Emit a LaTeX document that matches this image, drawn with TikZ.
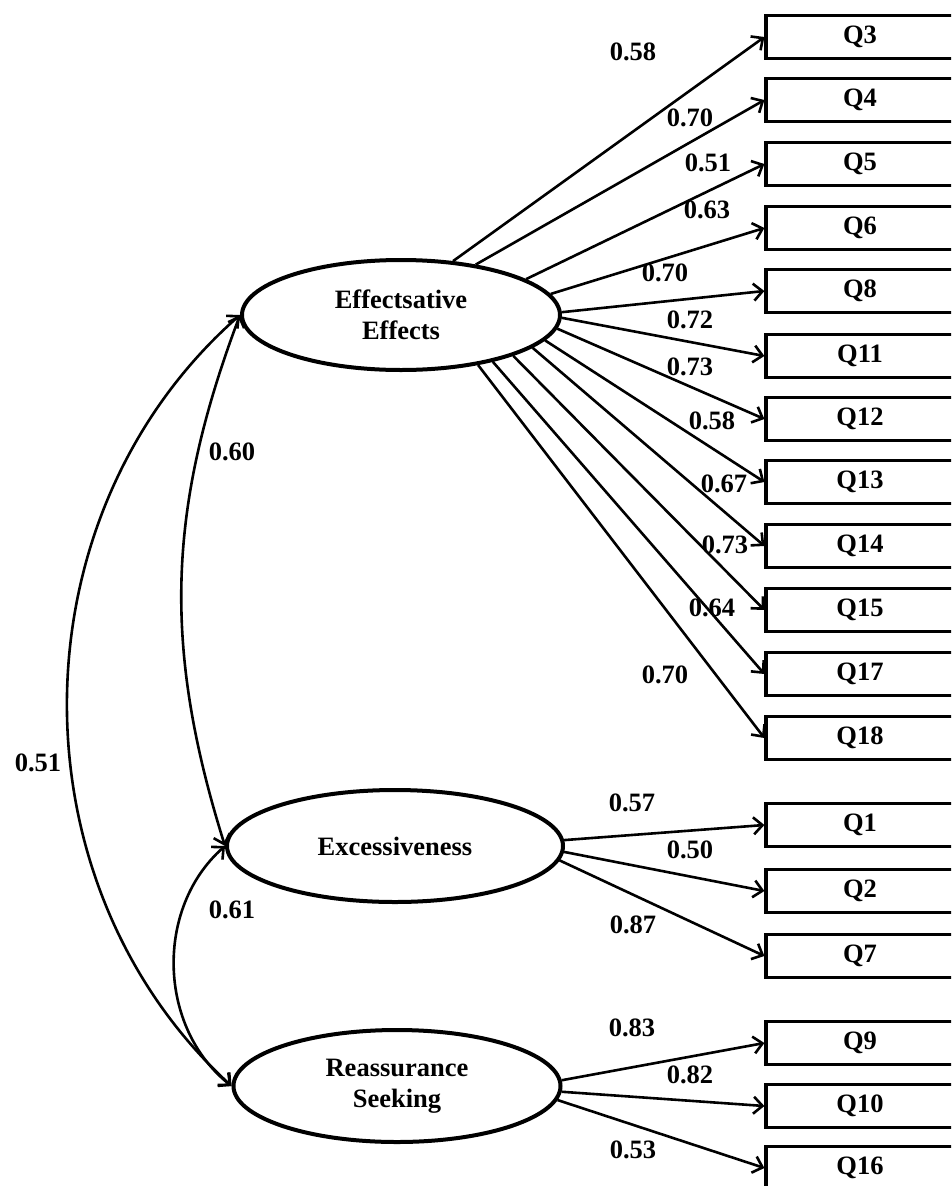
\documentclass[tikz,border=0pt]{standalone}
\usepackage{fontspec}
\setmainfont{Liberation Serif}
\usetikzlibrary{arrows.meta,shapes.geometric}
\begin{document}
\begin{tikzpicture}[x=1pt,y=-1pt,
  font=\fontsize{26.5}{31}\selectfont\bfseries,
  latent/.style={ellipse,draw,line width=4pt,inner sep=0pt,align=center},
  obs/.style={rectangle,draw,line width=3.2pt,minimum width=188pt,minimum height=43.5pt,inner sep=0pt},
  load/.style={line width=2.6pt,-{Straight Barb[length=9pt,width=17pt]}},
  cov/.style={line width=2.6pt,{Straight Barb[length=9pt,width=17pt]}-{Straight Barb[length=9pt,width=17pt]}},
  coef/.style={inner sep=0pt}
]
\useasboundingbox (0,0) rectangle (951,1186);
\clip (0,0) rectangle (951,1186);
\fill[white] (0,0) rectangle (951,1186);

% latent variables
\node[latent,minimum width=318pt,minimum height=110pt] (EE) at (401,315) {Effectsative\\Effects};
\node[latent,minimum width=336pt,minimum height=112pt] (EX) at (395,846) {Excessiveness};
\node[latent,minimum width=327pt,minimum height=112pt] (RS) at (397,1086) {Reassurance\\Seeking};

% observed variables
\foreach \q/\y in {Q3/37,Q4/100,Q5/164,Q6/228,Q8/291,Q11/356,Q12/419,Q13/482,Q14/546,Q15/610,Q17/674,Q18/738,Q1/825,Q2/891,Q7/956,Q9/1043,Q10/1106,Q16/1168}
  \node[obs] (\q) at (860,\y) {\q};

% loadings
\foreach \q/\a in {Q3/46,Q4/34,Q5/16,Q6/8,Q8/1,Q11/-1,Q12/-5,Q13/-10,Q14/-14,Q15/-20,Q17/-27,Q18/-33}
  \draw[load] (EE.\a) -- (\q.west);
\foreach \q/\a in {Q1/2,Q2/-2,Q7/-5}
  \draw[load] (EX.\a) -- (\q.west);
\foreach \q/\a in {Q9/2,Q10/-2,Q16/-5}
  \draw[load] (RS.\a) -- (\q.west);

% covariances
\draw[cov] (EE.west) to[bend right=48] (RS.west);
\draw[cov] (EE.west) to[bend right=19] (EX.west);
\draw[cov] (EX.west) to[bend right=50] (RS.west);

% coefficient labels
\node[coef] (l3) at (633,52) {0.58};
\node[coef] (l4) at (690,118) {0.70};
\node[coef] (l5) at (708,163) {0.51};
\node[coef] (l6) at (707,210) {0.63};
\node[coef] (l8) at (665,273) {0.70};
\node[coef] (l11) at (690,320) {0.72};
\node[coef] (l12) at (690,367) {0.73};
\node[coef] (l13) at (712,421) {0.58};
\node[coef] (l14) at (724,484) {0.67};
\node[coef] (l15) at (725,545) {0.73};
\node[coef] (l16) at (712,608) {0.64};
\node[coef] (l17) at (665,675) {0.70};
\node[coef] (c1) at (232,452) {0.60};
\node[coef] (c2) at (38,763) {0.51};
\node[coef] (c3) at (232,910) {0.61};
\node[coef] (m1) at (632,803) {0.57};
\node[coef] (m2) at (690,850) {0.50};
\node[coef] (m3) at (633,925) {0.87};
\node[coef] (r1) at (632,1028) {0.83};
\node[coef] (r2) at (690,1075) {0.82};
\node[coef] (r3) at (633,1150) {0.53};
\end{tikzpicture}
\end{document}
